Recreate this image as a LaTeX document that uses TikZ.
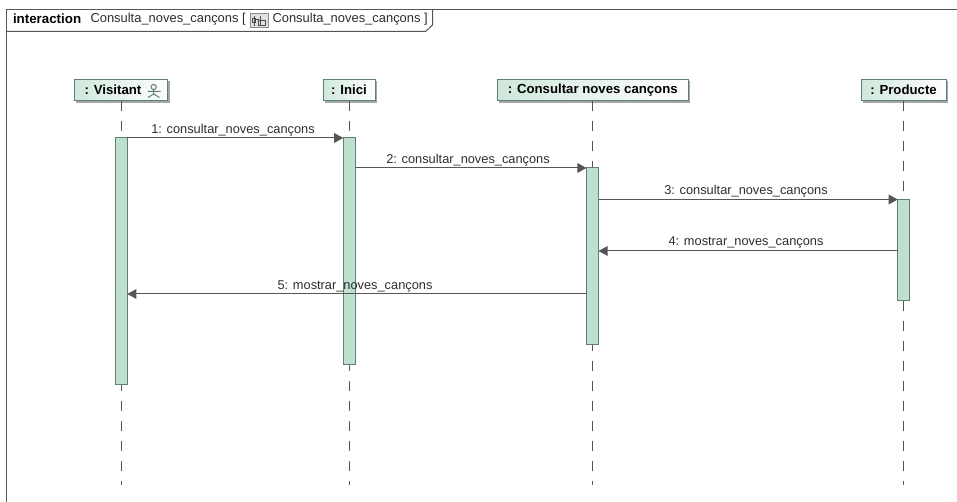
\documentclass[tikz,border=0pt]{standalone}
\usepackage{fontspec}
\setmainfont{Liberation Sans}
\usetikzlibrary{arrows.meta,shadows}

\definecolor{umlgreen}{RGB}{191,224,207}
\definecolor{umledge}{RGB}{92,128,114}
\definecolor{umlline}{RGB}{85,85,85}
\definecolor{umltext}{RGB}{45,45,45}

\tikzset{every picture/.style={line width=0.75pt}}
\tikzset{
  headbox/.style={draw=umledge,left color=umlgreen!75,right color=white,inner sep=0pt,outer sep=0pt,minimum height=16pt,font=\fontsize{9.9}{11}\selectfont\bfseries,text=black,drop shadow={shadow xshift=1.4pt,shadow yshift=-1.4pt,fill=black!50,opacity=0.7}},
  activebar/.style={draw=umledge,fill=umlgreen,inner sep=0pt,outer sep=0pt,minimum width=9pt},
  lifeline/.style={draw=umlline,dash pattern=on 7.5pt off 7.5pt},
  message/.style={draw=umlline,-{Triangle[length=6.8pt,width=7.2pt]}},
  msglabel/.style={inner sep=0pt,text=umltext,font=\fontsize{9.6}{11}\selectfont},
  titletext/.style={inner sep=0pt,anchor=west,text=umltext,font=\fontsize{9.7}{11}\selectfont}
}

\begin{document}
\begin{tikzpicture}[x=0.75pt,y=0.75pt,yscale=-1,xscale=1]
\useasboundingbox (0,0) rectangle (957,502);

%Frame
\draw [draw=umlline] (6.5,502) -- (6.5,9.5) -- (957,9.5) ;
\draw [draw=umlline] (6.5,31.5) -- (425.5,31.5) -- (432.5,25) -- (432.5,9.5) ;

% Text Node
\node (kind) [titletext,font=\fontsize{10}{11}\selectfont\bfseries,text=black] at (12.5,19) {interaction};
% Text Node
\node (name) [titletext] at (90,19) {Consulta\_noves\_cançons [};
% Text Node
\node (ref) [titletext] at (272,19) {Consulta\_noves\_cançons ]};

%Shape: diagram icon
\draw [draw=black!45,fill=black!12] (250,13.5) rectangle (268,28) ;
\draw [draw=black!70] (254,16) -- (254,26) (260,16) -- (260,26) (252.5,19) rectangle (255.5,23) (258.5,21) rectangle (265.5,26) (255.5,20) -- (258.5,20) ;

% Head nodes
\node (headVisitant) [headbox,minimum width=70.1pt] at (121.25,90.25) {: Visitant\kern12.4pt};
\node (headInici) [headbox,minimum width=39pt] at (349,90.25) {: Inici};
\node (headConsultar) [headbox,minimum width=143.6pt] at (592.75,90.25) {: Consultar noves cançons};
\node (headProducte) [headbox,minimum width=63.75pt] at (903.5,90.25) {: Producte};

%Shape: actor icon
\draw [draw=umledge] (153.7,87) circle [radius=2.6] (147.5,91.5) -- (160.5,91.5) (153.7,89.6) -- (153.7,94) -- (148,97.5) (153.7,94) -- (159.5,97.5) ;

% Lifeline ends
\coordinate (endVisitant) at (121.25,485);
\coordinate (endInici) at (349,485);
\coordinate (endConsultar) at (592.75,485);
\coordinate (endProducte) at (903.5,485);

%Straight Lines
\draw [lifeline] (headVisitant.south) -- (endVisitant) ;
\draw [lifeline] (headInici.south) -- (endInici) ;
\draw [lifeline] (headConsultar.south) -- (endConsultar) ;
\draw [lifeline] (headProducte.south) -- (endProducte) ;

% Activation bars
\node (barVisitant) [activebar,minimum height=184.9pt] at (121.25,261.25) {};
\node (barInici) [activebar,minimum height=169.9pt] at (349.25,251.25) {};
\node (barConsultar) [activebar,minimum height=132.4pt] at (592.5,256.25) {};
\node (barProducte) [activebar,minimum height=76.1pt] at (903.75,250.25) {};

% Message levels
\coordinate (level4) at (746,251);
\coordinate (level5) at (355,294);

%Messages
\draw [message] (barVisitant.north east) -- (barInici.north west) ;
\draw [message] (barInici.east |- barConsultar.north) -- (barConsultar.north west) ;
\draw [message] (barConsultar.east |- barProducte.north) -- (barProducte.north west) ;
\draw [message] (barProducte.west |- level4) -- (barConsultar.east |- level4) ;
\draw [message] (barConsultar.west |- level5) -- (barVisitant.east |- level5) ;

% Text Node
\node (msg1) [msglabel] at (233,130) {1:  consultar\_noves\_cançons};
% Text Node
\node (msg2) [msglabel] at (468,160) {2:  consultar\_noves\_cançons};
% Text Node
\node (msg3) [msglabel] at (746,191) {3:  consultar\_noves\_cançons};
% Text Node
\node (msg4) [msglabel] at (746,242.5) {4:  mostrar\_noves\_cançons};
% Text Node
\node (msg5) [msglabel] at (355,286) {5:  mostrar\_noves\_cançons};

\end{tikzpicture}
\end{document}
